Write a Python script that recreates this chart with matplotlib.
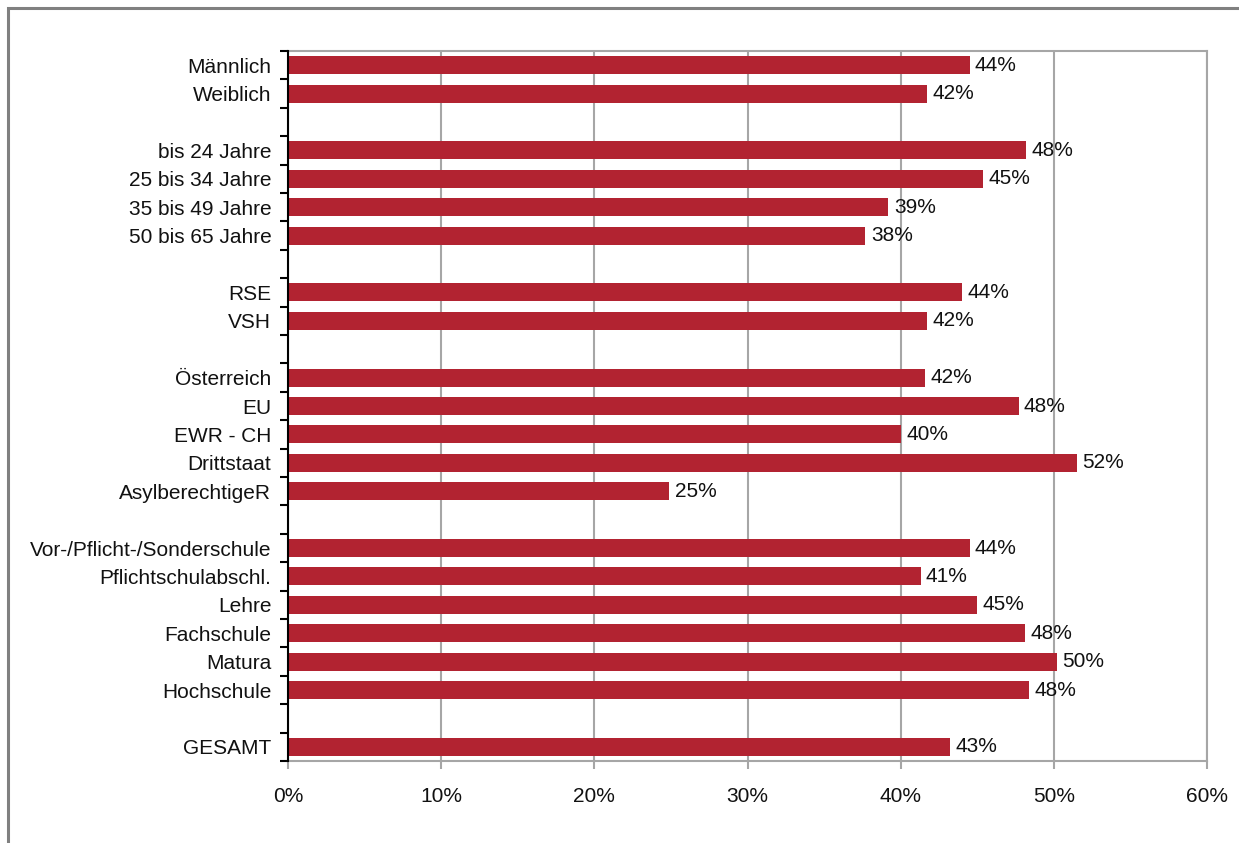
import numpy as np
import matplotlib.pyplot as plt
from matplotlib.patches import Rectangle
from matplotlib.ticker import FuncFormatter

plt.rcParams['font.family'] = ['Liberation Sans', 'DejaVu Sans']

BAR_COLOR = '#B22331'
GRID_COLOR = '#A6A6A6'
FS = 15

# groups of categories, separated by an empty row in the chart
groups = [
    ['Männlich', 'Weiblich'],
    ['bis 24 Jahre', '25 bis 34 Jahre', '35 bis 49 Jahre', '50 bis 65 Jahre'],
    ['RSE', 'VSH'],
    ['Österreich', 'EU', 'EWR - CH', 'Drittstaat', 'AsylberechtigeR'],
    ['Vor-/Pflicht-/Sonderschule', 'Pflichtschulabschl.', 'Lehre',
     'Fachschule', 'Matura', 'Hochschule'],
    ['GESAMT'],
]
values = [
    [44.5, 41.7],
    [48.2, 45.4, 39.2, 37.7],
    [44.0, 41.7],
    [41.6, 47.7, 40.0, 51.5, 24.9],
    [44.5, 41.3, 45.0, 48.1, 50.2, 48.4],
    [43.2],
]
value_labels = [
    ['44%', '42%'],
    ['48%', '45%', '39%', '38%'],
    ['44%', '42%'],
    ['42%', '48%', '40%', '52%', '25%'],
    ['44%', '41%', '45%', '48%', '50%', '48%'],
    ['43%'],
]

# build slot positions (top to bottom) with a blank slot between groups
labels, vals, vlabs, pos = [], [], [], []
slot = 0
for g, v, l in zip(groups, values, value_labels):
    for name, val, lab in zip(g, v, l):
        labels.append(name)
        vals.append(val)
        vlabs.append(lab)
        pos.append(slot)
        slot += 1
    slot += 1
n_slots = slot - 1

fig = plt.figure(figsize=(12.39, 8.43), dpi=100)
fig.patches.append(Rectangle((8 / 1239, -0.1), 1.2, (843 - 8) / 843 + 0.1,
                             transform=fig.transFigure, fill=False,
                             edgecolor='#808080', linewidth=2.2))

ax = fig.add_axes([288 / 1239, 1 - 761 / 843, (1207 - 288) / 1239, (761 - 51) / 843])

y = np.array(pos) + 0.5
ax.barh(y, vals, height=0.63, color=BAR_COLOR, zorder=3)
for yy, v, lab in zip(y, vals, vlabs):
    ax.text(v + 0.35, yy, lab, va='center', ha='left', fontsize=FS, color='#111111')

ax.set_xlim(0, 60)
ax.set_ylim(n_slots, 0)
ax.set_xticks(np.arange(0, 61, 10))
ax.xaxis.set_major_formatter(FuncFormatter(lambda x, p: f'{x:.0f}%'))
ax.set_yticks(np.arange(0, n_slots + 1))
ax.set_yticklabels([])
ax.set_yticks(y, minor=True)
ax.set_yticklabels(labels, minor=True)
ax.tick_params(axis='y', which='minor', length=0, pad=12, labelsize=FS, labelcolor='#111111')
ax.tick_params(axis='y', which='major', length=6, width=1.5, color='black', direction='out')
ax.tick_params(axis='x', length=6, width=1.5, color=GRID_COLOR, direction='out',
               pad=13, labelsize=FS, labelcolor='#111111')

ax.grid(axis='x', color=GRID_COLOR, linewidth=1.5, zorder=0)
ax.set_axisbelow(True)
for side in ['top', 'right', 'bottom']:
    ax.spines[side].set_color(GRID_COLOR)
    ax.spines[side].set_linewidth(1.5)
ax.spines['left'].set_color('black')
ax.spines['left'].set_linewidth(1.5)
ax.spines['left'].set_zorder(4)

fig.savefig('out.png', dpi=100)
